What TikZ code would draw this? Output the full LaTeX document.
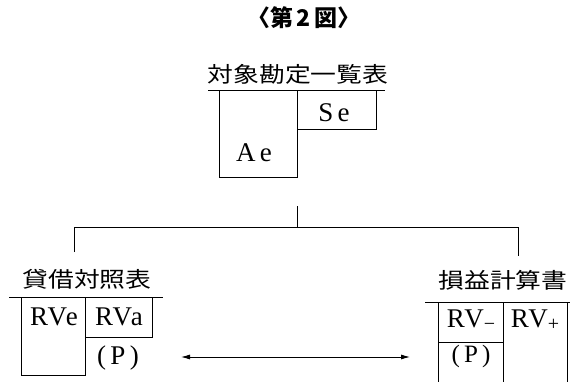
\documentclass[tikz,border=0pt]{standalone}
\usepackage{fontspec}
\setmainfont{Liberation Serif}
\newfontfamily\cjk{Noto Sans CJK JP}[FakeStretch=1.2]
\newfontfamily\cjkt{Noto Sans CJK JP}
\newfontfamily\ls{Liberation Serif}[LetterSpace=6]
\usetikzlibrary{arrows.meta}
\begin{document}
\begin{tikzpicture}[x=1pt,y=-1pt,line width=1pt,
  head/.style={font=\cjk\fontsize{21.5}{21.5}\selectfont, inner sep=0pt},
  lab/.style={font=\ls\fontsize{27}{27}\selectfont, inner sep=0pt},
  tbox/.style={draw, rectangle, inner sep=0pt, line width=1pt}]
\useasboundingbox (0,0) rectangle (570,381);
% title
\node[font=\cjkt\bfseries\fontsize{23}{23}\selectfont, inner sep=0pt] (fig) at (304,18) {〈第\,2\,図〉};
% top table
\node[head] (t1) at (298,74) {対象勘定一覧表};
\coordinate (l1a) at (208,90); \coordinate (l1b) at (385,90);
\draw (l1a) -- (l1b);
\node[tbox, minimum width=78pt, minimum height=87pt] (ae) at (258,133.5) {};
\node[tbox, minimum width=79pt, minimum height=39pt] (se) at (336.5,109.5) {};
\node[lab] (aet) at (254,153) {A\,e};
\node[lab] (set) at (334,113) {S\,e};
% connectors
\coordinate (s) at (297,206);
\coordinate (j) at (297,227);
\coordinate (ld) at (74,252);
\coordinate (rd) at (518,256);
\draw (s) -- (j);
\draw (ld) -- (ld|-j) -- (rd|-j) -- (rd);
% left table
\node[head] (t2) at (87,279) {貸借対照表};
\coordinate (l2a) at (9,297); \coordinate (l2b) at (163,297);
\draw (l2a) -- (l2b);
\node[tbox, minimum width=64pt, minimum height=78pt] (rve) at (53,336) {};
\node[tbox, minimum width=67pt, minimum height=40pt] (rva) at (118.5,317) {};
\node[lab] (rvet) at (54,317) {RVe};
\node[lab] (rvat) at (119,317) {RVa};
\node[lab] (p1) at (118,358) {(\,P\,)};
% right table
\node[head] (t3) at (503,280) {損益計算書};
\coordinate (l3a) at (425,302); \coordinate (l3b) at (570,302);
\draw (l3a) -- (l3b);
\node[tbox, minimum width=65pt, minimum height=40pt] (rvm) at (470.5,322) {};
\coordinate (c1) at (438,342); \coordinate (c1b) at (438,383);
\coordinate (c2) at (503,342); \coordinate (c2b) at (503,383);
\coordinate (c3) at (567,302); \coordinate (c3b) at (567,383);
\draw (c1) -- (c1b);
\draw (c2) -- (c2b);
\draw (c3) -- (c3b);
\node[lab] (rvmt) at (471,320) {RV\raisebox{-3pt}{\fontsize{20}{20}\selectfont −}};
\node[lab] (rvpt) at (535,320) {RV\raisebox{-3pt}{\fontsize{20}{20}\selectfont +}};
\node[lab, font=\ls\fontsize{25}{25}\selectfont] (p2) at (471,356) {(\,P\,)};
% arrow
\coordinate (a1) at (181,357); \coordinate (a2) at (410,357);
\draw[{Latex[length=9pt,width=5pt]}-{Latex[length=9pt,width=5pt]}, line width=0.8pt] (a1) -- (a2);
\end{tikzpicture}
\end{document}
